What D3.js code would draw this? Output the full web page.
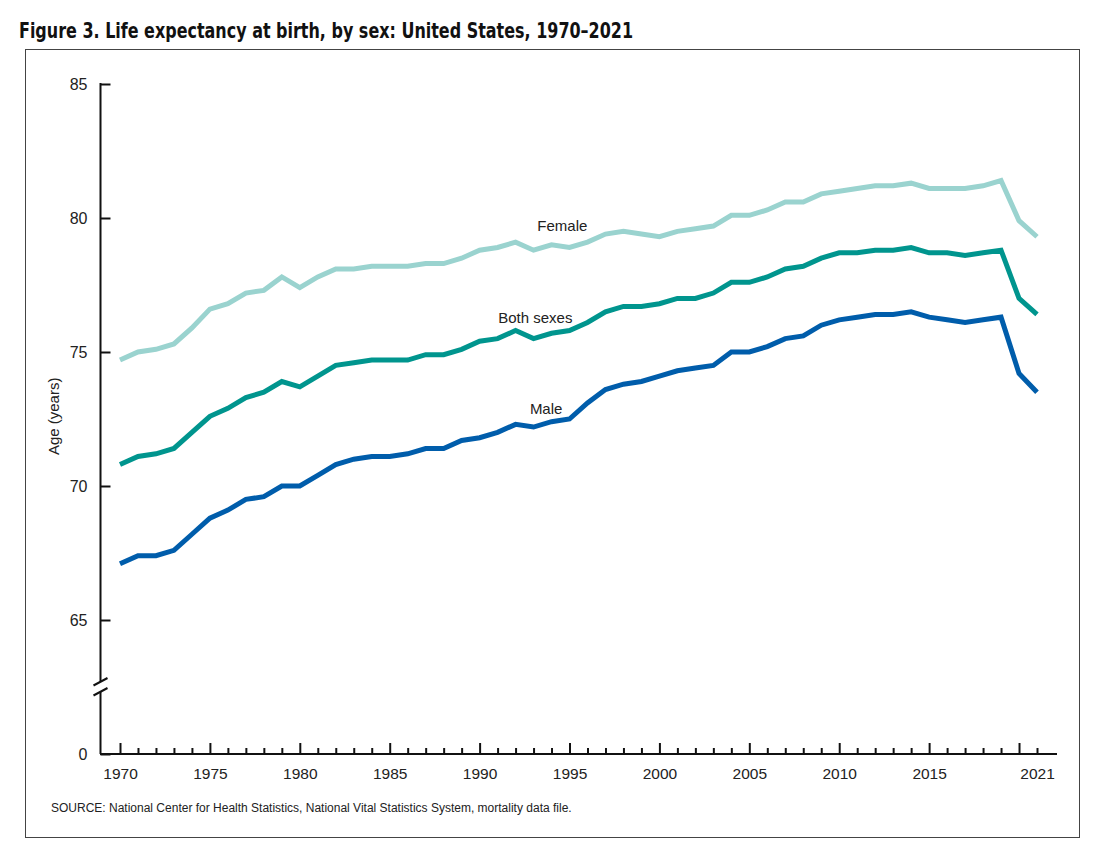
<!DOCTYPE html>
<html>
<head>
<meta charset="utf-8">
<script src="https://cdn.jsdelivr.net/npm/d3@7"></script>
<style>
    body { margin: 0; background: #fff; }
    svg { display: block; }
    .tick text { font-family: "Liberation Sans", Arial, sans-serif; fill: #222; }
</style>
</head>
<body>
<div class="panel"></div>
<script>

// Data ////////////////////////////////////

const years = d3.range(1970, 2022);

const female = [
    74.7, 75.0, 75.1, 75.3, 75.9, 76.6, 76.8, 77.2, 77.3, 77.8,
    77.4, 77.8, 78.1, 78.1, 78.2, 78.2, 78.2, 78.3, 78.3, 78.5,
    78.8, 78.9, 79.1, 78.8, 79.0, 78.9, 79.1, 79.4, 79.5, 79.4,
    79.3, 79.5, 79.6, 79.7, 80.1, 80.1, 80.3, 80.6, 80.6, 80.9,
    81.0, 81.1, 81.2, 81.2, 81.3, 81.1, 81.1, 81.1, 81.2, 81.4,
    79.9, 79.3
];

const bothSexes = [
    70.8, 71.1, 71.2, 71.4, 72.0, 72.6, 72.9, 73.3, 73.5, 73.9,
    73.7, 74.1, 74.5, 74.6, 74.7, 74.7, 74.7, 74.9, 74.9, 75.1,
    75.4, 75.5, 75.8, 75.5, 75.7, 75.8, 76.1, 76.5, 76.7, 76.7,
    76.8, 77.0, 77.0, 77.2, 77.6, 77.6, 77.8, 78.1, 78.2, 78.5,
    78.7, 78.7, 78.8, 78.8, 78.9, 78.7, 78.7, 78.6, 78.7, 78.8,
    77.0, 76.4
];

const male = [
    67.1, 67.4, 67.4, 67.6, 68.2, 68.8, 69.1, 69.5, 69.6, 70.0,
    70.0, 70.4, 70.8, 71.0, 71.1, 71.1, 71.2, 71.4, 71.4, 71.7,
    71.8, 72.0, 72.3, 72.2, 72.4, 72.5, 73.1, 73.6, 73.8, 73.9,
    74.1, 74.3, 74.4, 74.5, 75.0, 75.0, 75.2, 75.5, 75.6, 76.0,
    76.2, 76.3, 76.4, 76.4, 76.5, 76.3, 76.2, 76.1, 76.2, 76.3,
    74.2, 73.5
];

const seriesNames = ["Female", "Both sexes", "Male"];
const yTicks = [0, 65, 70, 75, 80, 85];
const xLabels = [1970, 1975, 1980, 1985, 1990, 1995, 2000, 2005, 2010, 2015, 2021];
const xMajor = [1970, 1975, 1980, 1985, 1990, 1995, 2000, 2005, 2010, 2015, 2020];

const colors = {
    female: "#9ad3cf",
    both: "#00958e",
    male: "#005dab"
};

// Chart ////////////////////////////////////

const dim = { width: 1095, height: 857 };

const svg = d3.select(".panel").append("svg")
    .attr("width", dim.width)
    .attr("height", dim.height)
    .attr("viewBox", [0, 0, dim.width, dim.height]);

svg.append("text")
    .attr("x", 19)
    .attr("y", 38)
    .attr("textLength", 614)
    .attr("lengthAdjust", "spacingAndGlyphs")
    .style("font-family", "'Liberation Sans Narrow', 'DejaVu Sans Condensed', 'Liberation Sans', sans-serif")
    .style("font-weight", "bold")
    .style("font-size", "21px")
    .style("fill", "#111")
    .text("Figure 3. Life expectancy at birth, by sex: United States, 1970\u20132021");

svg.append("rect")
    .attr("x", 25.5)
    .attr("y", 49.5)
    .attr("width", 1054)
    .attr("height", 788)
    .attr("fill", "none")
    .attr("stroke", "#444")
    .attr("stroke-width", 1);

// Scales

const x = d3.scaleLinear()
    .domain([1970, 2021])
    .range([120, 1037]);

// broken axis: 0 sits below the break, 65-85 above it
const y = d3.scaleLinear()
    .domain([0, 62.5, 85])
    .range([754, 687, 84]);

// Y axis

const yAxis = svg.append("g")
    .attr("transform", "translate(100.5, 0)")
    .call(d3.axisLeft(y)
        .tickValues(yTicks)
        .tickSize(-10)
        .tickPadding(13));

yAxis.select(".domain").remove();
yAxis.selectAll(".tick line").attr("stroke", "#111").attr("stroke-width", 2);
yAxis.selectAll(".tick text").style("font-size", "16px");

yAxis.append("line")
    .attr("x1", 0).attr("x2", 0)
    .attr("y1", y(85) - 1).attr("y2", 682)
    .attr("stroke", "#111").attr("stroke-width", 2);

yAxis.append("line")
    .attr("x1", 0).attr("x2", 0)
    .attr("y1", 692).attr("y2", y(0))
    .attr("stroke", "#111").attr("stroke-width", 2);

yAxis.selectAll(".break")
    .data([0, 10])
    .join("line")
    .attr("class", "break")
    .attr("x1", -7).attr("y1", d => 685.5 + d)
    .attr("x2", 7).attr("y2", d => 678 + d)
    .attr("stroke", "#111").attr("stroke-width", 2);

svg.append("text")
    .attr("transform", `translate(59, ${ y(72.6) }) rotate(-90)`)
    .attr("text-anchor", "middle")
    .style("font-family", "'Liberation Sans', Arial, sans-serif")
    .style("font-size", "15px")
    .style("fill", "#222")
    .text("Age (years)");

// X axis

const xAxis = svg.append("g")
    .attr("transform", `translate(0, ${ y(0) })`)
    .call(d3.axisBottom(x)
        .tickValues(years)
        .tickSize(-6)
        .tickPadding(14)
        .tickFormat(d => xLabels.includes(d) ? d : ""));

xAxis.select(".domain")
    .attr("d", `M100,0H1057`)
    .attr("stroke", "#111")
    .attr("stroke-width", 2);

xAxis.selectAll(".tick line")
    .attr("stroke", "#111")
    .attr("stroke-width", 2)
    .attr("y2", d => xMajor.includes(d) ? -11 : -6);

xAxis.selectAll(".tick text").style("font-size", "15.5px");

// Lines

const series = [
    { name: seriesNames[0], values: female, color: colors.female },
    { name: seriesNames[1], values: bothSexes, color: colors.both },
    { name: seriesNames[2], values: male, color: colors.male }
];

const line = d3.line()
    .x((d, i) => x(years[i]))
    .y(d => y(d));

svg.append("g")
    .selectAll("path")
    .data(series)
    .join("path")
    .attr("d", d => line(d.values))
    .attr("fill", "none")
    .attr("stroke", d => d.color)
    .attr("stroke-width", 5)
    .attr("stroke-linejoin", "miter");

// Labels

const labelAt = [
    { name: seriesNames[0], year: 1994.6, value: 79.5 },
    { name: seriesNames[1], year: 1993.1, value: 76.1 },
    { name: seriesNames[2], year: 1993.7, value: 72.7 }
];

svg.append("g")
    .selectAll("text")
    .data(labelAt)
    .join("text")
    .attr("x", d => x(d.year))
    .attr("y", d => y(d.value))
    .attr("text-anchor", "middle")
    .style("font-family", "'Liberation Sans', Arial, sans-serif")
    .style("font-size", "15px")
    .style("fill", "#222")
    .text(d => d.name);

// Source

svg.append("text")
    .attr("x", 51)
    .attr("y", 812)
    .style("font-family", "'Liberation Sans', Arial, sans-serif")
    .style("font-size", "12px")
    .style("fill", "#222")
    .text("SOURCE: National Center for Health Statistics, National Vital Statistics System, mortality data file.");

</script>
</body>
</html>
